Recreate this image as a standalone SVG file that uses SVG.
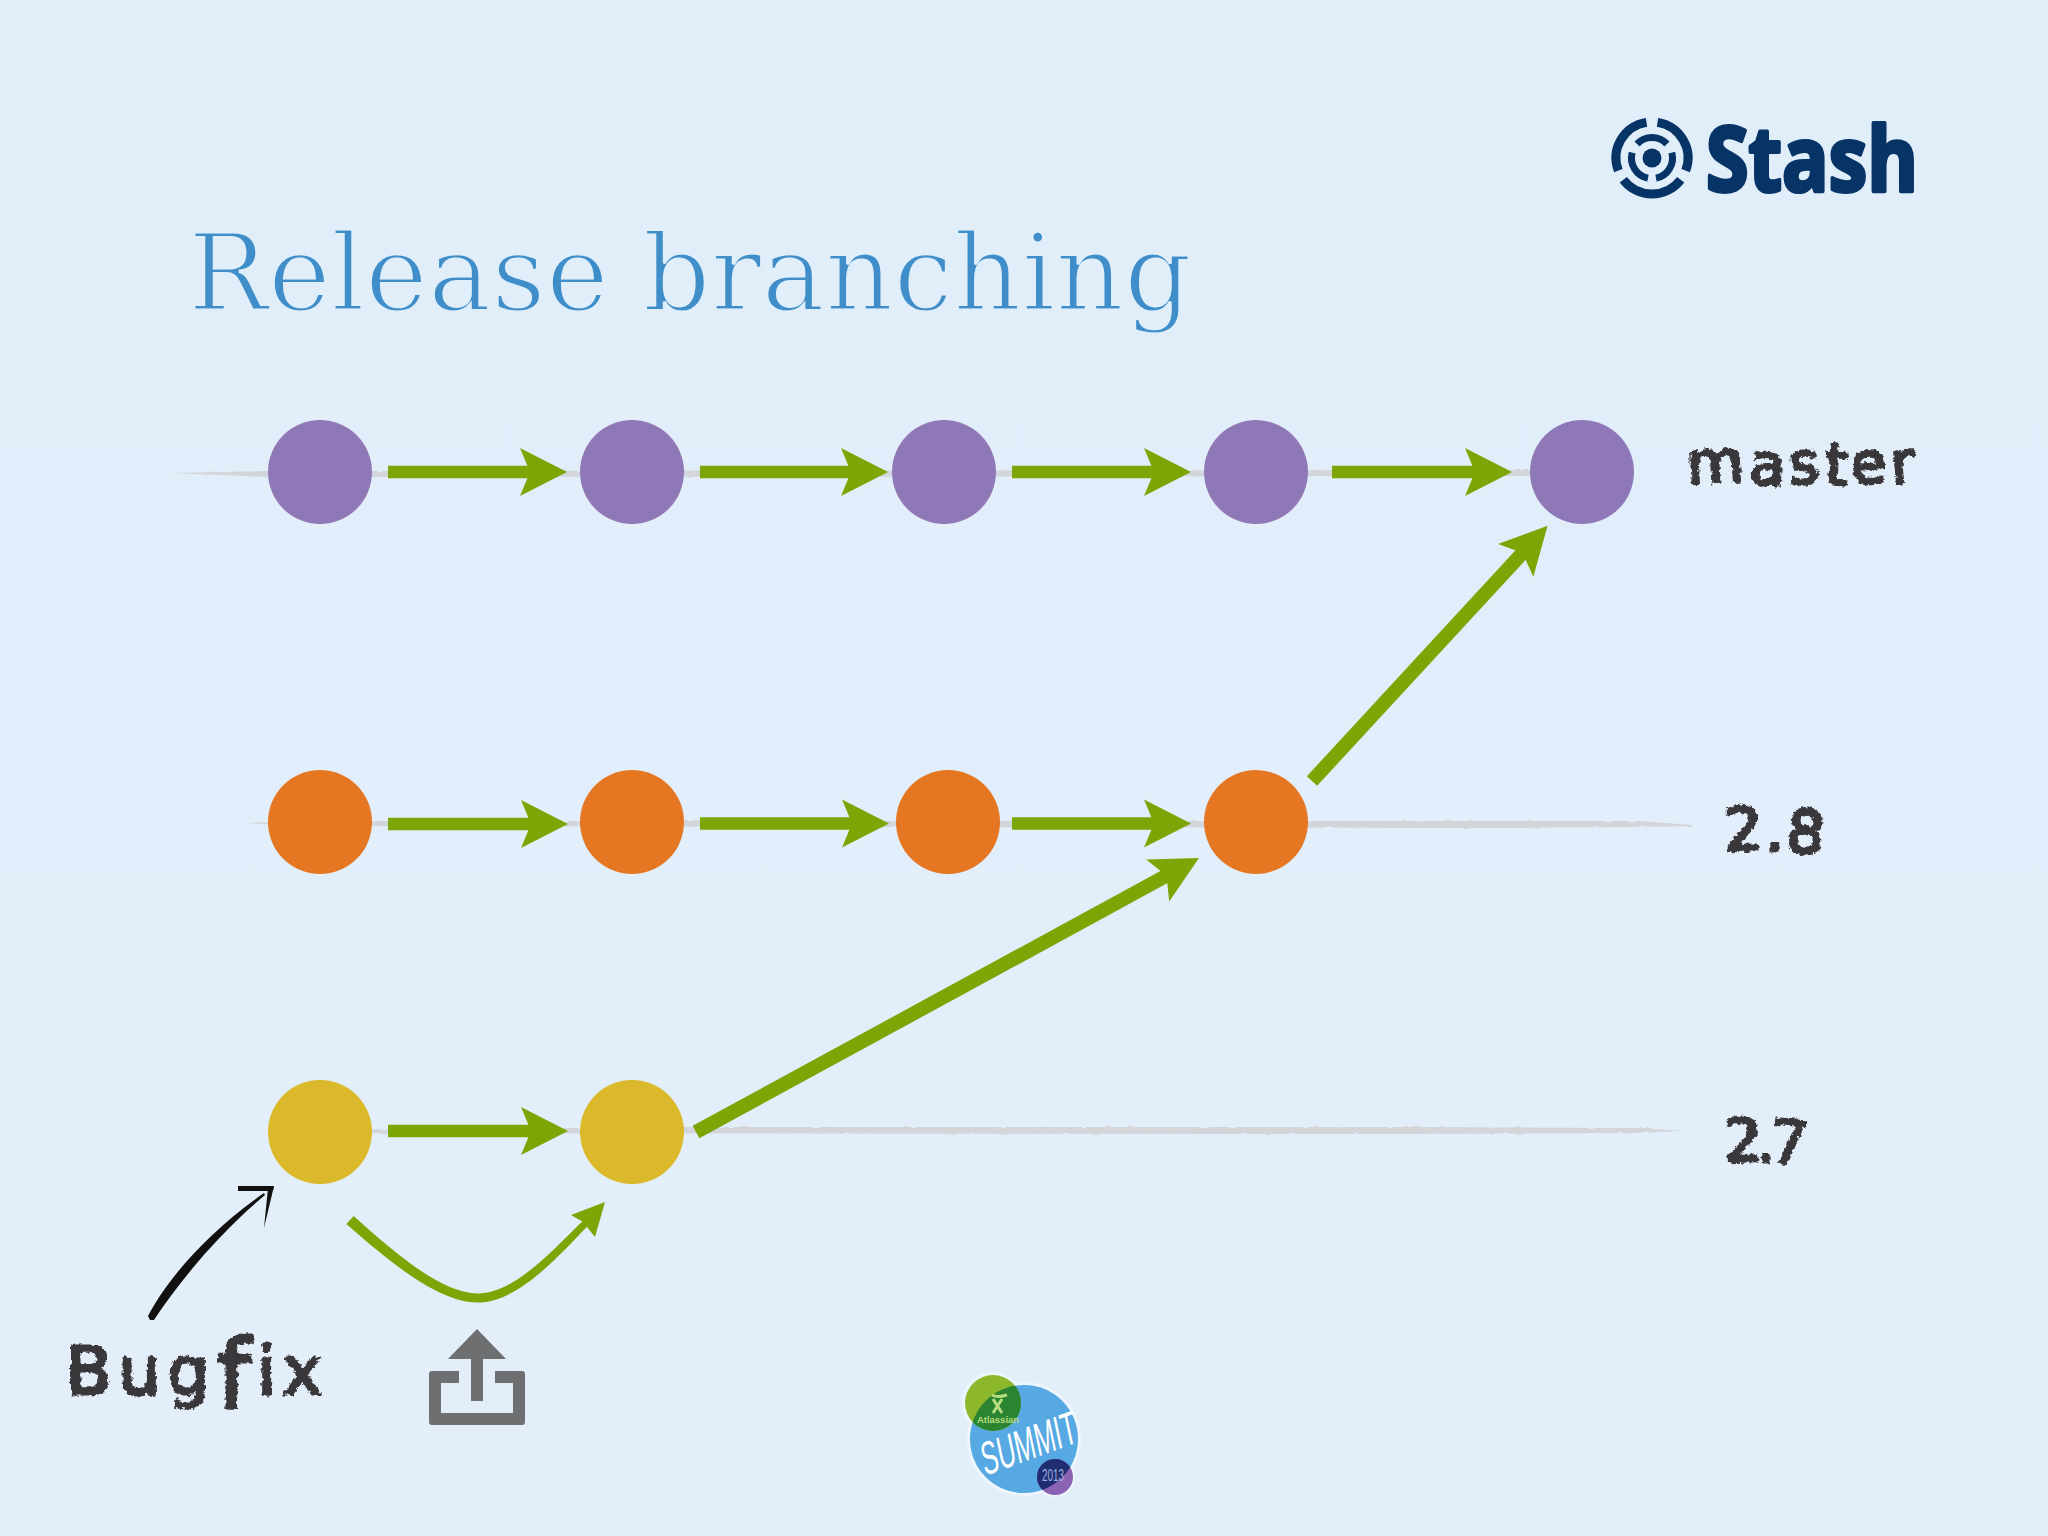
<svg xmlns="http://www.w3.org/2000/svg" width="2048" height="1536" viewBox="0 0 2048 1536">
<defs>
<linearGradient id="bg" x1="0" y1="0" x2="0" y2="1"><stop offset="0" stop-color="#e0eefa"/><stop offset="1" stop-color="#e4eefb"/></linearGradient>
<marker id="head" markerUnits="userSpaceOnUse" viewBox="0 0 48 50" markerWidth="48" markerHeight="50" refX="10" refY="25" orient="auto"><path d="M0,1 L47,25 L0,49 L10,25 Z" fill="#7ba606"/></marker>
<filter id="rough" x="-10%" y="-20%" width="120%" height="140%"><feTurbulence type="fractalNoise" baseFrequency="0.22" numOctaves="3" seed="4"/><feDisplacementMap in="SourceGraphic" scale="6" xChannelSelector="R" yChannelSelector="G"/></filter>
<filter id="railRough" x="-2%" y="-100%" width="104%" height="300%"><feTurbulence type="fractalNoise" baseFrequency="0.08" numOctaves="2" seed="7"/><feDisplacementMap in="SourceGraphic" scale="2.500" xChannelSelector="R" yChannelSelector="G"/></filter>
<clipPath id="summitClip"><circle cx="1024" cy="1439" r="54"/></clipPath>
</defs>
<style>
.flow{stroke:#7ba606;stroke-width:12.500;fill:none;marker-end:url(#head)}
.diag{stroke-width:14}
.rail{fill:#d3d5d8;filter:url(#railRough)}
.hand{font-family:"DejaVu Sans",sans-serif;fill:#3a373b;stroke:#3a373b;stroke-width:3;stroke-linejoin:round;filter:url(#rough)}
.purple{fill:#8f78b7}.orange{fill:#e57722}.yellow{fill:#dcb92a}
.logo{fill:none;stroke:#063466}
</style>
<rect id="background" width="2048" height="1536" fill="url(#bg)"/>
<text id="title" x="188" y="310" font-family="'DejaVu Serif',serif" font-size="107" fill="#3f8ec9" stroke="#e0eefa" stroke-width="3" textLength="1004" lengthAdjust="spacingAndGlyphs">Release branching</text>
<g id="rails">
<path class="rail" d="M170,473 L270,471 L1540,470 L1540,476 L270,477 Z"/>
<path class="rail" d="M245,823 L300,821 L1500,821 L1640,821 L1692,825 L1692,826 L1640,827 L1500,828 L300,826 Z"/>
<path class="rail" d="M300,1130 L700,1127 L1400,1127 L1640,1128 L1684,1131 L1640,1133 L1400,1134 L300,1133 Z"/>
</g>
<g id="connectors">
<path class="flow" d="M388,472 H530"/><path class="flow" d="M700,472 H851"/><path class="flow" d="M1012,472 H1154"/><path class="flow" d="M1332,472 H1475"/>
<path class="flow" d="M388,824 H531"/><path class="flow" d="M700,823.500 H852"/><path class="flow" d="M1012,823.500 H1154"/>
<path class="flow" d="M388,1131 H531"/>
<path class="flow diag" d="M1312,781 L1522.500,553"/>
<path class="flow diag" d="M696,1132 L1166.500,875.700"/>
<path id="curve" fill="#7ba606" d="M353.700,1216 C400,1258 444,1293.500 478,1293.500 C514,1293.500 553,1250 582.800,1221 L588,1225.800 C557,1258 517,1302.500 478,1302.500 C440,1302.500 394,1266 346.300,1224 Z"/>
<path id="curve-head" fill="#7ba606" d="M605,1202 L595,1237 L583,1222 L571,1215 Z"/>
<g id="bugfix-arrow" fill="#111">
<path d="M148,1316 C168,1278 208,1232 264,1193 L265,1195 C215,1237 178,1284 154,1320 L150,1320 Z"/>
<path d="M238,1186 L274,1186 L273,1191 L238,1191 Z"/>
<path d="M268,1188 L274,1186 L264,1228 Z"/>
</g>
</g>
<g id="node-master-1"><circle class="purple" cx="320" cy="472" r="52"/></g>
<g id="node-master-2"><circle class="purple" cx="632" cy="472" r="52"/></g>
<g id="node-master-3"><circle class="purple" cx="944" cy="472" r="52"/></g>
<g id="node-master-4"><circle class="purple" cx="1256" cy="472" r="52"/></g>
<g id="node-master-5"><circle class="purple" cx="1582" cy="472" r="52"/></g>
<g id="node-28-1"><circle class="orange" cx="320" cy="822" r="52"/></g>
<g id="node-28-2"><circle class="orange" cx="632" cy="822" r="52"/></g>
<g id="node-28-3"><circle class="orange" cx="948" cy="822" r="52"/></g>
<g id="node-28-4"><circle class="orange" cx="1256" cy="822" r="52"/></g>
<g id="node-27-1"><circle class="yellow" cx="320" cy="1132" r="52"/></g>
<g id="node-27-2"><circle class="yellow" cx="632" cy="1132" r="52"/></g>
<text id="label-master" class="hand" x="1688" y="484" font-size="58" rotate="-3 2 -2 3 -3 -5" textLength="228" lengthAdjust="spacing">master</text>
<text id="label-28" class="hand" x="1725" y="851" font-size="60" rotate="-2 0 6" textLength="98" lengthAdjust="spacing">2.8</text>
<text id="label-27" class="hand" x="1725" y="1162" font-size="60" rotate="-2 0 4" textLength="82" lengthAdjust="spacing">2.7</text>
<text id="label-bugfix" class="hand" x="66" y="1394" font-size="66" textLength="256" lengthAdjust="spacing">Bug<tspan font-size="96" dy="14">f</tspan><tspan dy="-14">ix</tspan></text>
<g id="share-icon" fill="#6d6f71">
<path d="M432,1371 H459 V1383 H441 V1413 H513 V1383 H495 V1371 H522 a3,3 0 0 1 3,3 V1422 a3,3 0 0 1 -3,3 H432 a3,3 0 0 1 -3,-3 V1374 a3,3 0 0 1 3,-3 Z"/>
<path d="M477,1329 L506,1359 H483 V1401 H471 V1359 H448 Z"/>
</g>
<g id="stash-logo">
<g class="logo">
<path d="M1646.500,122.400 A36,36 0 0 0 1618.300,170.700" stroke-width="9"/>
<path d="M1657.500,122.400 A36,36 0 0 1 1685.700,170.700" stroke-width="9"/>
<path d="M1623.300,179.700 A36,36 0 0 0 1680.700,179.700" stroke-width="9"/>
<path d="M1637,144 A20.500,20.500 0 0 1 1667,144" stroke-width="7"/>
<path d="M1632.200,152.600 A20.500,20.500 0 0 0 1648,178.100" stroke-width="7"/>
<path d="M1671.800,152.600 A20.500,20.500 0 0 1 1656,178.100" stroke-width="7"/>
</g>
<circle cx="1652" cy="158" r="9.500" fill="#063466"/>
<text x="1706" y="191" font-family="'Open Sans','Liberation Sans',sans-serif" font-weight="700" font-size="90" fill="#063466" stroke="#063466" stroke-width="4" stroke-linejoin="round" textLength="212" lengthAdjust="spacingAndGlyphs">Stash</text>
</g>
<g id="summit-logo">
<circle cx="1024" cy="1439" r="57" fill="#eef6fd"/>
<circle cx="993" cy="1403" r="31" fill="#eef6fd"/>
<circle cx="1055" cy="1477" r="20" fill="#eef6fd"/>
<circle cx="1024" cy="1439" r="54" fill="#56a9e2"/>
<circle cx="993" cy="1403" r="28" fill="#8db82c"/>
<circle cx="993" cy="1403" r="28" fill="#2b8431" clip-path="url(#summitClip)"/>
<text x="998" y="1423" text-anchor="middle" font-family="'Liberation Sans',sans-serif" font-weight="700" font-size="9.500" fill="#b7dd7f">Atlassian</text>
<path d="M992,1395 Q997,1398 1007,1395 M993,1399 L1002,1413 M1002,1399 L993,1413" stroke="#b7dd7f" stroke-width="3" fill="none"/>
<text transform="translate(985,1476) rotate(-20) skewX(-8)" font-family="'Liberation Sans',sans-serif" font-size="46" fill="#fff" textLength="100" lengthAdjust="spacingAndGlyphs">SUMMIT</text>
<circle cx="1055" cy="1477" r="18" fill="#8b63b5"/>
<circle cx="1055" cy="1477" r="18" fill="#202d70" clip-path="url(#summitClip)"/>
<text x="1053" y="1481" text-anchor="middle" font-family="'Liberation Sans',sans-serif" font-size="16" fill="#9fb0e0" textLength="22" lengthAdjust="spacingAndGlyphs">2013</text>
</g>
</svg>
